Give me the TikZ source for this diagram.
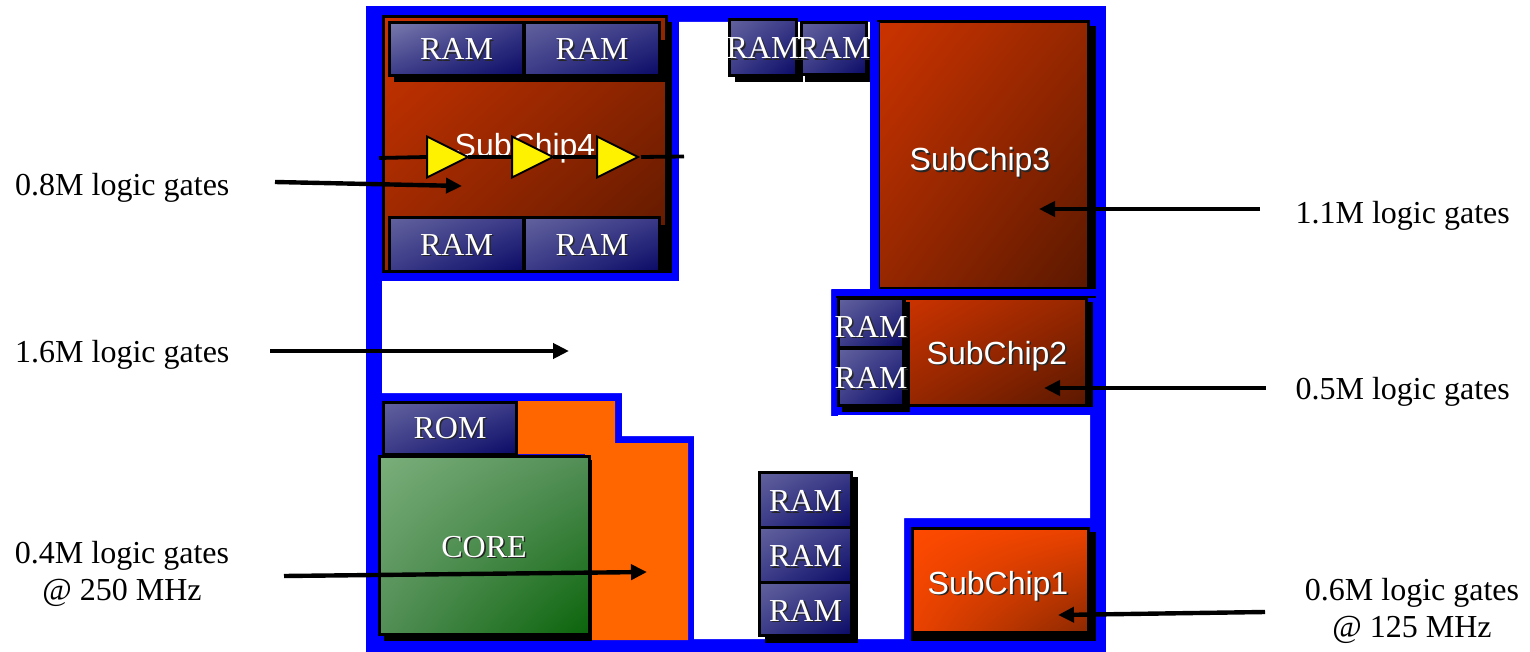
\documentclass[tikz,border=0pt]{standalone}
\usepackage{fontspec}
\setmainfont{Liberation Serif}
\newfontfamily\chipfont{Liberation Sans}
\usetikzlibrary{arrows.meta,shapes.geometric,shadings}
\definecolor{frameblue}{HTML}{0000FF}
\definecolor{coreorange}{HTML}{FF6600}
\newcommand{\shtxt}[1]{\leavevmode\rlap{\kern1.6pt\raisebox{-1.6pt}{\color{black!85}#1}}#1}
% text of a box: no width, so that it may overhang, lowered by #1 points
\newcommand{\boxtxt}[2][0]{\makebox[0pt][c]{\raisebox{-#1pt}[21pt][0pt]{\shtxt{#2}}}}
% name, style, x1, y1, x2, y2 (outer edges), text
\newcommand{\cbox}[7]{%
  \pgfmathsetmacro{\cbx}{(#3+#5)/2}%
  \pgfmathsetmacro{\cby}{(#4+#6)/2}%
  \pgfmathsetmacro{\cbw}{#5-#3-3}%
  \pgfmathsetmacro{\cbh}{#6-#4-3}%
  \node[#2,minimum width=\cbw pt,minimum height=\cbh pt] (#1) at (\cbx,\cby) {#7};%
}
\tikzset{
  x=1pt,y=-1pt,
  chipbox/.style={draw=black,line width=3pt,inner sep=0pt,outer sep=0pt,shading=bilinear interpolation,text=white},
  rambox/.style={chipbox,font=\fontsize{32}{36}\selectfont,
    upper left=ramTL,lower right=ramBR,upper right=ramM,lower left=ramM},
  ramlight/.style={rambox,upper left=ramTLL},
  subbox/.style={chipbox,font=\chipfont\fontsize{32}{36}\selectfont,
    upper left=subTL,lower right=subBR,upper right=subM,lower left=subM},
  subone/.style={chipbox,font=\chipfont\fontsize{32}{36}\selectfont,
    upper left=oneTL,lower right=oneBR,upper right=oneM,lower left=oneM},
  corebox/.style={chipbox,font=\fontsize{32}{36}\selectfont,
    upper left=coreTL,lower right=coreBR,upper right=coreM,lower left=coreM},
  gatelabel/.style={font=\fontsize{32}{37}\selectfont,align=center,inner sep=0pt},
  callout/.style={line width=4.4pt,-{Triangle[length=16pt,width=15pt]}},
  wire/.style={line width=3.8pt,black},
  buffer/.style={isosceles triangle,isosceles triangle stretches,minimum width=41pt,minimum height=41pt,
    inner sep=0pt,outer sep=0pt,fill=yellow,draw=black,line width=2pt,shape border rotate=0,anchor=apex},
}
\definecolor{ramTL}{HTML}{62629E}\definecolor{ramTLL}{HTML}{7A7AAE}
\definecolor{ramM}{HTML}{3A3A88}\definecolor{ramBR}{HTML}{0A0A66}
\definecolor{subTL}{HTML}{CC3300}\definecolor{subM}{HTML}{952700}\definecolor{subBR}{HTML}{5A1800}
\definecolor{oneTL}{HTML}{FF4A00}\definecolor{oneM}{HTML}{EA4200}\definecolor{oneBR}{HTML}{8A2800}
\definecolor{coreTL}{HTML}{7AAE7A}\definecolor{coreM}{HTML}{528E56}\definecolor{coreBR}{HTML}{0A640A}
\begin{document}
\begin{tikzpicture}
\useasboundingbox (0,0) rectangle (1530,652);
\fill[white] (0,0) rectangle (1530,652);
% frame and channels
\fill[frameblue] (366,6) rectangle (1106,652);
\fill[white] (679,22) -- (870,22) -- (870,289) -- (831,289) -- (831,416) -- (838,416) -- (838,415)
  -- (1090,415) -- (1090,518) -- (904,518) -- (904,639) -- (694,639) -- (694,436) -- (622,436)
  -- (622,393) -- (382,393) -- (382,281) -- (679,281) -- cycle;
\fill[coreorange] (518,401) -- (615,401) -- (615,443) -- (688,443) -- (688,640) -- (585,640) -- (585,454) -- (518,454) -- cycle;
% SubChip4
\fill[black] (668,22) rectangle (672,273);
\cbox{sc4}{subbox}{382}{15}{668}{273}{}
\node[font=\chipfont\fontsize{32}{36}\selectfont,text=white,inner sep=0pt,anchor=base] (sc4t) at (525,157) {SubChip4};
\fill[black] (394,40) rectangle (665,82);
\fill[black] (650,225) rectangle (665,273);
\cbox{ram1}{ramlight}{388}{21}{525}{77}{\boxtxt{RAM}}
\cbox{ram2}{rambox}{523}{21}{661}{77}{\boxtxt{RAM}}
\cbox{ram3}{rambox}{388}{216}{525}{273}{\boxtxt{RAM}}
\cbox{ram4}{rambox}{523}{216}{661}{273}{\boxtxt{RAM}}
% buffers and the wire
\node[buffer] (b1) at (468,157) {};
\node[buffer] (b2) at (553,157) {};
\node[buffer] (b3) at (638,157) {};
\coordinate (wl) at (379,158);
\coordinate (wr) at (684,156.5);
\draw[wire] (wl) -- (b1.lower side);
\draw[wire] (b1.apex) -- (b2.lower side);
\draw[wire] (b2.apex) -- (b3.lower side);
\draw[wire] ([xshift=3pt]b3.apex) -- (wr);
% top RAMs
\fill[black] (735,40) rectangle (803,82);
\fill[black] (805,40) rectangle (870,82);
\cbox{ram6}{rambox}{800}{21}{868}{76}{\boxtxt{RAM}}
\cbox{ram5}{rambox}{728}{18}{798}{77}{\boxtxt[1]{RAM}}
% SubChip3
\fill[black] (1090,26) rectangle (1096,289);
\cbox{sc3}{subbox}{877}{20}{1090}{290}{}
\node[font=\chipfont\fontsize{32}{36}\selectfont,text=white,inner sep=0pt,anchor=base] (sc3t) at (980,171) {\shtxt{SubChip3}};
\fill[frameblue] (870,22) rectangle (879,290);
\fill[frameblue] (832,289) rectangle (1090,297);
% SubChip2
\fill[black] (1088,302) rectangle (1093,407);
\fill[black] (836,296) rectangle (1096,298);
\cbox{sc2}{subbox}{903}{297}{1088}{407}{}
\node[font=\chipfont\fontsize{32}{36}\selectfont,text=white,inner sep=0pt,anchor=base] (sc2t) at (997,364) {\shtxt{SubChip2}};
\fill[black] (842,302) rectangle (910,412);
\cbox{ram7}{rambox}{837}{297}{905}{349}{\boxtxt[3.5]{RAM}}
\cbox{ram8}{rambox}{837}{347}{905}{407}{\boxtxt[1]{RAM}}
% SubChip1
\fill[black] (911,532) rectangle (1096,641);
\cbox{sc1}{subone}{911}{527}{1090}{634}{}
\node[font=\chipfont\fontsize{32}{36}\selectfont,text=white,inner sep=0pt,anchor=base] (sc1t) at (998,594) {\shtxt{SubChip1}};
% RAM column
\fill[black] (765,477) rectangle (858,643);
\cbox{ram9}{rambox}{758}{471}{853}{529}{\boxtxt[1]{RAM}}
\cbox{ram10}{rambox}{758}{526}{853}{584}{\boxtxt[1]{RAM}}
\cbox{ram11}{rambox}{758}{581}{853}{637}{\boxtxt[1.5]{RAM}}
% ROM and CORE
\cbox{rom}{rambox}{382}{401}{518}{456}{\boxtxt[-1]{ROM}}
\fill[black] (384,460) rectangle (592,641);
\cbox{core}{corebox}{378}{455}{591}{636}{}
\node[font=\fontsize{32}{36}\selectfont,text=white,inner sep=0pt,anchor=base] (coret) at (484,557) {\shtxt{CORE}};
% labels
\node[gatelabel,anchor=base west] (l8) at (15,196) {0.8M logic gates};
\node[gatelabel,anchor=base west] (l16) at (15,362) {1.6M logic gates};
\node[gatelabel,anchor=base east] (l11) at (1510,224) {1.1M logic gates};
\node[gatelabel,anchor=base east] (l5) at (1510,399) {0.5M logic gates};
\node[gatelabel,anchor=base] (l4) at (122,600) {0.4M logic gates\\@ 250 MHz};
\node[gatelabel,anchor=base] (l6) at (1412,637) {0.6M logic gates\\@ 125 MHz};
% callouts
\coordinate (a8s) at (275,182);   \coordinate (a8e) at (462,186);
\coordinate (a16s) at (270,351);  \coordinate (a16e) at (569,351);
\coordinate (a4s) at (284,576);   \coordinate (a4e) at (647,572);
\coordinate (a11s) at (1260,209); \coordinate (a11e) at (1039,209);
\coordinate (a5s) at (1266,388);  \coordinate (a5e) at (1044,388);
\coordinate (a6s) at (1265,612);  \coordinate (a6e) at (1058,615);
\draw[callout] (a8s) -- (a8e);
\draw[callout] (a16s) -- (a16e);
\draw[callout] (a4s) -- (a4e);
\draw[callout] (a11s) -- (a11e);
\draw[callout] (a5s) -- (a5e);
\draw[callout] (a6s) -- (a6e);
\end{tikzpicture}
\end{document}
